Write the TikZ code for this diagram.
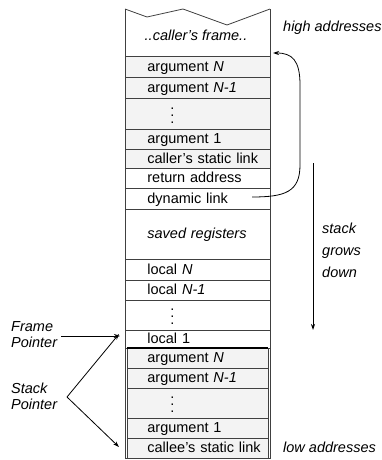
\documentclass[tikz,border=0pt]{standalone}
\usepackage{fontspec}
\setmainfont{Liberation Sans}
\usetikzlibrary{arrows.meta}
\definecolor{cellgray}{HTML}{F3F3F3}
\definecolor{linegray}{HTML}{404040}
% three stacked dots for elided rows
\newcommand{\stackdots}{\raisebox{-5pt}{\vbox{\baselineskip7pt\lineskiplimit0pt\hbox{.}\hbox{.}\hbox{.}}}}

\begin{document}
\begin{tikzpicture}[x=1pt,y=-1pt,
  font=\fontsize{14.5}{17}\selectfont,
  cellbase/.style={draw=linegray, line width=0.8pt, rectangle, anchor=north west,
    inner ysep=0pt, align=left, text height=10.5pt, text depth=1.5pt},
  cell/.style={cellbase, minimum width=145pt, text width=127pt, inner xsep=9pt,
    execute at begin node={\hspace*{13pt}}},
  callee/.style={cellbase, fill=cellgray, minimum width=141pt, text width=125pt,
    inner xsep=8pt, execute at begin node={\hspace*{12pt}}},
  shaded/.style={cell, fill=cellgray},
  label/.style={inner sep=0pt, font=\fontsize{14.5}{16}\selectfont\itshape},
  ptr/.style={line width=0.8pt, -{Stealth[length=6pt,width=4pt]}}]

\useasboundingbox (0,0) rectangle (382,460);

% caller's frame, torn edge on top
\path[fill=white] (125,56) -- (125,9) -- (147,17) -- (183,9) -- (227,25) -- (270,9) -- (270,56) -- cycle;
\draw[linegray, line width=0.8pt] (125,9) -- (147,17) -- (183,9) -- (227,25) -- (270,9);
\node[label, anchor=base] (callerframe) at (196,41) {..caller's frame..};

% caller's outgoing arguments
\node[shaded, minimum height=21pt] (argN)   at (125,56)  {argument \textit{N}};
\node[shaded, minimum height=21pt] (argNm)  at (125,77)  {argument \textit{N-1}};
\node[shaded, minimum height=31pt] (argdot) at (125,98)  {\hspace*{23pt}\stackdots};
\node[shaded, minimum height=20pt] (arg1)   at (125,129) {argument 1};
\node[shaded, minimum height=19pt] (csl)    at (125,149) {\mbox{caller's static link}};

% current frame
\node[cell, minimum height=20pt] (ret)    at (125,168) {return address};
\node[cell, minimum height=21pt] (dyn)    at (125,188) {dynamic link};
\node[cell, minimum height=50pt] (saved)  at (125,209) {\textit{saved registers}};
\node[cell, minimum height=21pt] (locN)   at (125,259) {local \textit{N}};
\node[cell, minimum height=20pt] (locNm)  at (125,280) {local \textit{N-1}};
\node[cell, minimum height=30pt] (locdot) at (125,300) {\hspace*{23pt}\stackdots};
\node[cell, minimum height=18pt] (loc1)   at (125,330) {local 1};

% arguments passed to the callee
\node[callee, minimum height=20pt] (cargN)   at (127,348) {argument \textit{N}};
\node[callee, minimum height=20pt] (cargNm)  at (127,368) {argument \textit{N-1}};
\node[callee, minimum height=30pt] (cargdot) at (127,388) {\hspace*{23pt}\stackdots};
\node[callee, minimum height=20pt] (carg1)   at (127,418) {argument 1};
\node[callee, minimum height=20pt] (cstatic) at (127,438) {\mbox{callee's static link}};
\draw[line width=1.4pt] (127,348) -- (268,348);

% outer walls of the stack
\draw[linegray, line width=0.9pt] (125,9) -- (125,458) -- (270,458) -- (270,9);

% dynamic link back to the caller's frame
\coordinate (dlfrom) at (252,197);
\coordinate (dlto) at (273,53);
\draw[ptr] (dlfrom) .. controls (285,197) and (300,192) .. (300,165)
  -- (300,85) .. controls (300,60) and (292,53) .. (dlto);

% side annotations
\node[label, anchor=base west] (high) at (283,32) {high addresses};
\node[label, anchor=base west] (low)  at (283,452) {low addresses};
\node[label, anchor=base west] (grow1) at (322,233) {stack};
\node[label, anchor=base west] (grow2) at (322,255) {grows};
\node[label, anchor=base west] (grow3) at (322,277) {down};
\coordinate (growtop) at (313,163);
\coordinate (growbot) at (313,330);
\draw[ptr] (growtop) -- (growbot);

% frame and stack pointers
\node[label, align=left, anchor=west] (fp) at (11,335) {Frame\\Pointer};
\node[label, align=left, anchor=west] (sp) at (11,396) {Stack\\Pointer};
\coordinate (fptip) at (120,336);
\coordinate (sptip) at (119,334);
\coordinate (spvertex) at (67,397);
\coordinate (splow) at (119,447);
\draw[ptr] (fp.east) ++(4,1) -- (fptip);
\draw[ptr] (spvertex) -- (sptip);
\draw[ptr] (spvertex) -- (splow);
\end{tikzpicture}
\end{document}
